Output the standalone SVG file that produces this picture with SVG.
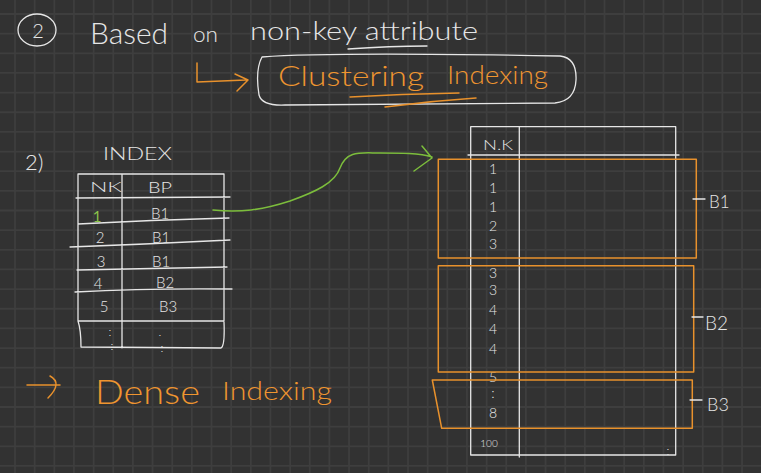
<svg xmlns="http://www.w3.org/2000/svg" width="761" height="473" viewBox="0 0 761 473">
<style>
.grid{fill:none;stroke:#3e3e3e;stroke-width:1.8}
.w{fill:none;stroke:#e6e6e6;stroke-width:1.3;stroke-linecap:round;stroke-linejoin:round}
.o{fill:none;stroke:#e8912c;stroke-width:1.5;stroke-linecap:round;stroke-linejoin:round}
.g{fill:none;stroke:#7cbd3c;stroke-width:1.5;stroke-linecap:round;stroke-linejoin:round}
.tw{font-family:"Lato","Inter","DejaVu Sans",sans-serif;font-weight:300;fill:#e6e6e6}
.to{font-family:"Lato","Inter","DejaVu Sans",sans-serif;font-weight:300;fill:#ef9530}
.c{text-anchor:middle}
</style>
<rect width="761" height="473" fill="#323232"/>
<path class="grid" d="M15 0V473M34.65 0V473M54.3 0V473M73.95 0V473M93.6 0V473M113.25 0V473M132.9 0V473M152.55 0V473M172.2 0V473M191.85 0V473M211.5 0V473M231.15 0V473M250.8 0V473M270.45 0V473M290.1 0V473M309.75 0V473M329.4 0V473M349.05 0V473M368.7 0V473M388.35 0V473M408 0V473M427.65 0V473M447.3 0V473M466.95 0V473M486.6 0V473M506.25 0V473M525.9 0V473M545.55 0V473M565.2 0V473M584.85 0V473M604.5 0V473M624.15 0V473M643.8 0V473M663.45 0V473M683.1 0V473M702.75 0V473M722.4 0V473M742.05 0V473M0 14H761M0 33.65H761M0 53.3H761M0 72.95H761M0 92.6H761M0 112.25H761M0 131.9H761M0 151.55H761M0 171.2H761M0 190.85H761M0 210.5H761M0 230.15H761M0 249.8H761M0 269.45H761M0 289.1H761M0 308.75H761M0 328.4H761M0 348.05H761M0 367.7H761M0 387.35H761M0 407H761M0 426.65H761M0 446.3H761M0 465.95H761"/>

<g id="title">
<ellipse class="w" cx="37" cy="30" rx="19" ry="16"/>
<text class="tw c" x="38" y="38" font-size="20">2</text>
<text class="tw" x="90" y="44" font-size="30" textLength="78" lengthAdjust="spacingAndGlyphs">Based</text>
<text class="tw" x="193" y="42" font-size="22" textLength="25" lengthAdjust="spacingAndGlyphs">on</text>
<text class="tw" x="250" y="40" font-size="26" textLength="228" lengthAdjust="spacingAndGlyphs">non-key attribute</text>
<path class="w" d="M348 49 Q390 46 427 46"/>
</g>

<g id="clustering-box">
<path class="w" d="M262 57 Q330 52 560 56 Q577 58 576 80 Q575 101 555 103 L285 105 Q262 106 259 95 Q255 70 262 57 Z"/>
<text class="to" x="278" y="86" font-size="28" textLength="146" lengthAdjust="spacingAndGlyphs">Clustering</text>
<text class="to" x="447" y="84" font-size="26" textLength="101" lengthAdjust="spacingAndGlyphs">Indexing</text>
<path class="o" d="M350 97 Q400 94 459 93M385 107 Q430 101 476 98"/>
</g>

<g id="index-table">
<text class="tw" x="25" y="170" font-size="22">2)</text>
<text class="tw" x="103" y="160" font-size="18" textLength="69" lengthAdjust="spacingAndGlyphs">INDEX</text>
<path class="w" d="M78 174H224M78 174V321M224 174V321M122 174V348M76 198L230 197M78 224Q150 220 229 218M70 247Q150 244 230 240M77 270L227 267M75 292Q150 288 232 289M78 321H224M78 321Q81 330 81 347L221 348Q225 346 224 322"/>
<text class="tw" x="90" y="192" font-size="14" textLength="32" lengthAdjust="spacingAndGlyphs">NK</text>
<text class="tw" x="148" y="193" font-size="15" textLength="24" lengthAdjust="spacingAndGlyphs">BP</text>
<text class="c" x="97" y="222" font-size="15" font-family="Lato, DejaVu Sans, sans-serif" fill="#8bc34a">1</text>
<text class="tw c" x="100" y="243" font-size="15">2</text>
<text class="tw c" x="101" y="267" font-size="15">3</text>
<text class="tw c" x="98" y="289" font-size="15">4</text>
<text class="tw c" x="104" y="312" font-size="15">5</text>
<text class="tw c" x="160" y="219" font-size="15">B1</text>
<text class="tw c" x="161" y="243" font-size="15">B1</text>
<text class="tw c" x="161" y="267" font-size="15">B1</text>
<text class="tw c" x="165" y="288" font-size="15">B2</text>
<text class="tw c" x="168" y="312" font-size="15">B3</text>
<text class="tw c" x="110" y="336" font-size="12">:</text>
<text class="tw c" x="112" y="350" font-size="12">:</text>
<text class="tw c" x="160" y="336" font-size="12">.</text>
<text class="tw c" x="162" y="352" font-size="12">:</text>
</g>

<g id="data-file">
<rect class="w" x="470.7" y="126.7" width="205" height="328.3"/>
<path class="w" d="M519.3 127V457M468 155H679"/>
<text class="tw" x="483" y="150" font-size="14" textLength="30" lengthAdjust="spacingAndGlyphs">N.K</text>
<g class="tw c" font-size="14">
<text x="493" y="174">1</text>
<text x="493" y="193">1</text>
<text x="493" y="212">1</text>
<text x="493" y="231">2</text>
<text x="493" y="249">3</text>
<text x="493" y="278">3</text>
<text x="493" y="295">3</text>
<text x="493" y="315">4</text>
<text x="493" y="334">4</text>
<text x="493" y="354">4</text>
<text x="493" y="382">5</text>
<text x="493" y="398">:</text>
<text x="493" y="418">8</text>
<text x="489" y="447" font-size="10">100</text>
<text x="668" y="455" font-size="12">:</text>
</g>
</g>

<g id="block-b1">
<rect class="o" x="438.3" y="159.3" width="258" height="98.7"/>
<path class="w" d="M693 199H705"/>
<text class="tw" x="709" y="208" font-size="17">B1</text>
</g>
<g id="block-b2">
<rect class="o" x="438.3" y="265.7" width="255.4" height="106.3"/>
<path class="w" d="M692 317H703"/>
<text class="tw" x="705" y="330" font-size="19">B2</text>
</g>
<g id="block-b3">
<path class="o" d="M432.3 380H692.3V428.3H441.7Z"/>
<path class="w" d="M690 400H702"/>
<text class="tw" x="707" y="411" font-size="18">B3</text>
</g>

<g id="dense-label">
<text class="to" x="95" y="404" font-size="34" textLength="105" lengthAdjust="spacingAndGlyphs">Dense</text>
<text class="to" x="222" y="400" font-size="26" textLength="110" lengthAdjust="spacingAndGlyphs">Indexing</text>
</g>

<g id="connectors">
<path class="g" d="M213 210C240 213 262 210 290 201C315 192 335 183 340 168C347 150 360 153 380 153C400 153 420 153 432 157M422 146L432 158L414 171"/>
<path class="o" d="M197 63V82L246 80M235 74L248 80L237 91"/>
<path class="o" d="M27 385H60M50 376Q63 383 48 398"/>
</g>
</svg>
